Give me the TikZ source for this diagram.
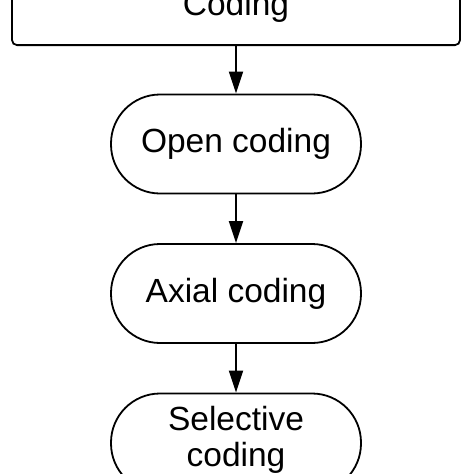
\documentclass[tikz,border=0pt]{standalone}
\usepackage{fontspec}
\setmainfont{Liberation Sans}
\usetikzlibrary{arrows.meta}
\begin{document}
\begin{tikzpicture}[x=1pt,y=-1pt,
  box/.style={draw=black,line width=1.8pt,rounded corners=5pt,minimum width=448pt,minimum height=77pt,inner sep=0pt,font=\fontsize{33.5}{36}\selectfont},
  pill/.style={draw=black,line width=1.8pt,rounded corners=49pt,minimum width=250pt,minimum height=99pt,inner sep=0pt,align=center,font=\fontsize{33.5}{36}\selectfont},
  flow/.style={line width=1.8pt,-{Triangle[length=22pt,width=14pt]}}]
\useasboundingbox (0,0) rectangle (474,474);
\clip (0,0) rectangle (474,474);
\fill[white] (0,0) rectangle (474,474);
\node[box] (coding) at (236,6.6) {Coding};
\node[pill] (open) at (236,144) {Open coding};
\node[pill] (axial) at (236,293.5) {Axial coding};
\node[pill] (sel) at (236,443) {\raisebox{0pt}[\height][\dimexpr\depth+3pt\relax]{\begin{tabular}{@{}c@{}}Selective\\coding\end{tabular}}};
\draw[flow] (coding.south) -- (open.north);
\draw[flow] (open.south) -- (axial.north);
\draw[flow] (axial.south) -- (sel.north);
\end{tikzpicture}
\end{document}
